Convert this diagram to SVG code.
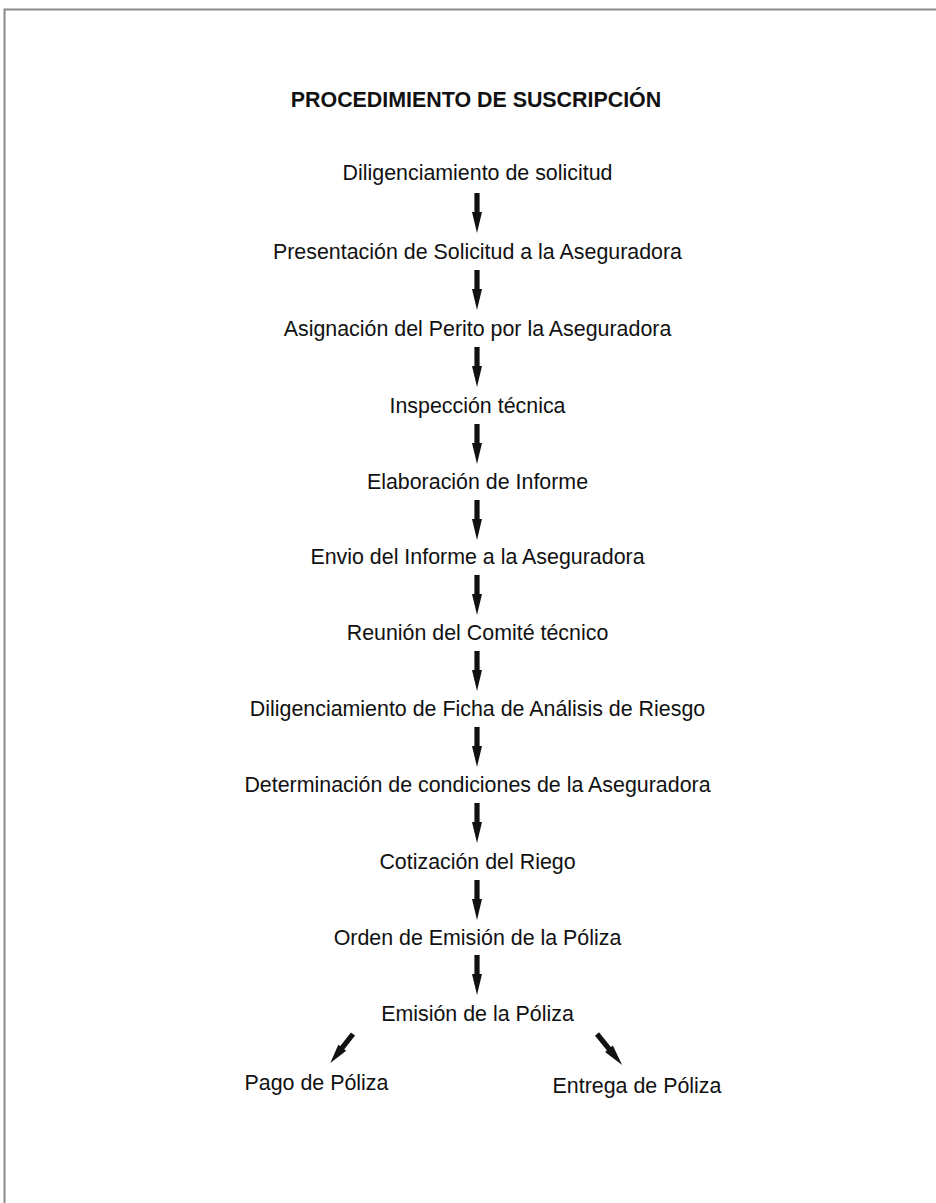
<svg xmlns="http://www.w3.org/2000/svg" width="936" height="1203" viewBox="0 0 936 1203">
<defs>
<style>
.t{font-family:"Liberation Sans",Arial,sans-serif;font-size:21.4px;fill:#111;text-anchor:middle}
.h{font-family:"Liberation Sans",Arial,sans-serif;font-size:21.4px;font-weight:bold;fill:#111;text-anchor:middle}
.a{fill:#111}
</style>
<g id="arrowDown">
<rect x="-2.6" y="0" width="5.2" height="22" class="a"/>
<polygon points="-5,19 5,19 0,40" class="a"/>
</g>
</defs>
<rect width="936" height="1203" fill="#fff"/>
<path d="M4.5 1203 V9.5 H936" fill="none" stroke="#8a8a8a" stroke-width="2"/>
<g id="title"><text class="h" x="476" y="107">PROCEDIMIENTO DE SUSCRIPCIÓN</text></g>
<g id="n1"><text class="t" x="477.5" y="180">Diligenciamiento de solicitud</text></g>
<g id="n2"><text class="t" x="477.5" y="259">Presentación de Solicitud a la Aseguradora</text></g>
<g id="n3"><text class="t" x="477.5" y="336">Asignación del Perito por la Aseguradora</text></g>
<g id="n4"><text class="t" x="477.5" y="413">Inspección técnica</text></g>
<g id="n5"><text class="t" x="477.5" y="489">Elaboración de Informe</text></g>
<g id="n6"><text class="t" x="477.5" y="564">Envio del Informe a la Aseguradora</text></g>
<g id="n7"><text class="t" x="477.5" y="640">Reunión del Comité técnico</text></g>
<g id="n8"><text class="t" x="477.5" y="716">Diligenciamiento de Ficha de Análisis de Riesgo</text></g>
<g id="n9"><text class="t" x="477.5" y="792">Determinación de condiciones de la Aseguradora</text></g>
<g id="n10"><text class="t" x="477.5" y="869">Cotización del Riego</text></g>
<g id="n11"><text class="t" x="477.5" y="945">Orden de Emisión de la Póliza</text></g>
<g id="n12"><text class="t" x="477.5" y="1021">Emisión de la Póliza</text></g>
<g id="n13"><text class="t" x="316.5" y="1090">Pago de Póliza</text></g>
<g id="n14"><text class="t" x="637" y="1093">Entrega de Póliza</text></g>
<g id="connectors">
<use href="#arrowDown" x="477" y="193"/>
<use href="#arrowDown" x="477" y="270"/>
<use href="#arrowDown" x="477" y="347"/>
<use href="#arrowDown" x="477" y="424"/>
<use href="#arrowDown" x="477" y="500"/>
<use href="#arrowDown" x="477" y="575"/>
<use href="#arrowDown" x="477" y="651"/>
<use href="#arrowDown" x="477" y="727"/>
<use href="#arrowDown" x="477" y="803"/>
<use href="#arrowDown" x="477" y="880"/>
<use href="#arrowDown" x="477" y="955"/>
<use href="#arrowDown" transform="translate(353,1034) rotate(38) scale(1,0.92)"/>
<use href="#arrowDown" transform="translate(597,1034) rotate(-39)"/>
</g>
</svg>
